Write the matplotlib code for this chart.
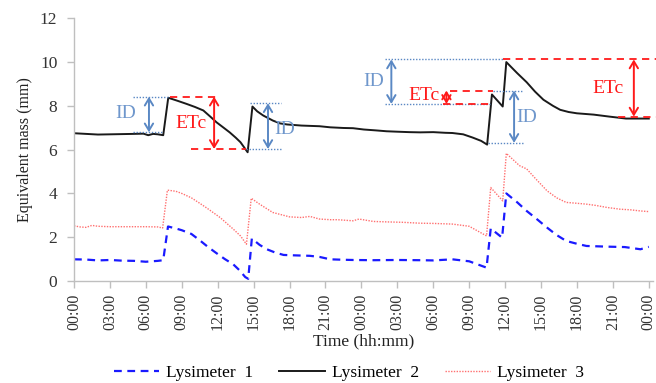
import matplotlib
matplotlib.use("Agg")
import matplotlib.pyplot as plt

plt.rcParams['font.family'] = ['Liberation Serif', 'DejaVu Serif']

# ---------------- data (hours since start, mm) ----------------
t1 = [0, 1, 2, 3, 4, 5, 6, 7, 7.45, 7.85, 8.5, 9.0, 9.8, 10.5, 11.2, 11.9, 12.6, 13.3,
      13.8, 14.3, 14.55, 14.85, 15.5, 16.1, 16.8, 17.5, 18.5, 19.7, 20.5, 21.4, 22.5,
      23.3, 25, 27, 28.9, 30, 31.6, 33, 34.45, 34.8, 35.75, 36.1, 37, 37.8, 38.6, 39.5,
      40.3, 41.1, 42, 42.8, 44.5, 46, 47.3, 48]
lys1 = [0.99, 0.98, 0.94, 0.96, 0.93, 0.92, 0.88, 0.92, 0.95, 2.49, 2.40, 2.32, 2.15,
        1.86, 1.55, 1.27, 1.00, 0.76, 0.50, 0.18, 0.10, 1.94, 1.65, 1.45, 1.30, 1.19,
        1.17, 1.15, 1.10, 0.99, 0.97, 0.96, 0.95, 0.96, 0.95, 0.94, 0.99, 0.90, 0.61,
        2.40, 1.98, 4.00, 3.60, 3.20, 2.85, 2.44, 2.10, 1.83, 1.70, 1.60, 1.57, 1.55,
        1.45, 1.56]

t2 = [0, 1, 2, 3, 4, 5, 5.8, 6.2, 6.6, 7.0, 7.45, 7.87, 8.6, 9.4, 10.1, 10.8, 11.4,
      11.9, 12.5, 13.0, 13.5, 13.9, 14.5, 14.9, 15.3, 15.8, 16.6, 17.2, 17.8, 19, 20.5,
      21.4, 22.5, 23.3, 24.2, 25.2, 26.1, 27, 28, 28.9, 30, 31, 31.6, 32.5, 33.3, 34.0,
      34.5, 34.9, 35.8, 36.1, 37, 37.8, 38.5, 39.2, 40, 40.6, 41.3, 42, 43.4, 44.7,
      46.1, 47, 48]
lys2 = [6.75, 6.72, 6.69, 6.70, 6.71, 6.72, 6.73, 6.66, 6.72, 6.70, 6.66, 8.37, 8.24,
        8.09, 7.95, 7.79, 7.50, 7.25, 7.00, 6.79, 6.55, 6.34, 5.88, 7.97, 7.75, 7.56,
        7.33, 7.20, 7.15, 7.10, 7.07, 7.02, 6.99, 6.98, 6.92, 6.88, 6.84, 6.82, 6.80,
        6.79, 6.80, 6.77, 6.76, 6.70, 6.55, 6.40, 6.23, 8.52, 7.97, 10.00, 9.50, 9.08,
        8.65, 8.28, 8.00, 7.82, 7.72, 7.66, 7.60, 7.51, 7.42, 7.42, 7.42]

t3 = [0, 0.5, 1, 1.5, 2, 3, 4, 5, 6, 7, 7.4, 7.8, 8.5, 9.0, 9.8, 10.5, 11.1, 12.2, 13.3,
      13.9, 14.4, 14.8, 15.5, 16.6, 18.0, 19.0, 19.7, 20.5, 21.4, 22.0, 23.3, 23.8, 25,
      26.1, 27.5, 28.9, 30, 31.6, 33, 34.45, 34.8, 35.8, 36.1, 37.2, 37.8, 38.5, 39.5,
      40.3, 41.1, 42, 42.8, 43.6, 44.5, 45.6, 46.5, 47.3, 48]
lys3 = [2.52, 2.47, 2.45, 2.54, 2.50, 2.48, 2.48, 2.48, 2.48, 2.47, 2.42, 4.15, 4.10,
        4.00, 3.80, 3.55, 3.33, 2.90, 2.37, 2.06, 1.68, 3.78, 3.51, 3.13, 2.93, 2.90,
        2.95, 2.83, 2.80, 2.80, 2.75, 2.83, 2.72, 2.70, 2.68, 2.64, 2.63, 2.60, 2.50,
        2.06, 4.27, 3.66, 5.83, 5.27, 5.12, 4.70, 4.12, 3.80, 3.59, 3.55, 3.51, 3.45,
        3.36, 3.28, 3.25, 3.20, 3.17]

series_names = ["Lysimeter  1", "Lysimeter  2", "Lysimeter  3"]
tick_hours = list(range(0, 49, 3))
tick_labels = ["00:00", "03:00", "06:00", "09:00", "12:00", "15:00", "18:00", "21:00",
               "00:00", "03:00", "06:00", "09:00", "12:00", "15:00", "18:00", "21:00",
               "00:00"]

# annotation guides: (x0, x1, y)
id_lines = [(4.95, 7.87, 8.42), (4.95, 7.45, 6.79),
            (14.7, 17.3, 8.12), (14.4, 17.3, 6.03),
            (26.0, 35.8, 10.12), (26.0, 34.7, 8.09),
            (35.0, 37.5, 8.70), (34.6, 37.5, 6.31)]
etc_lines = [(8.0, 12.05, 8.42), (9.8, 14.4, 6.03),
             (31.4, 35.0, 8.70), (30.8, 34.7, 8.09),
             (35.85, 48.6, 10.12), (45.4, 48.6, 7.51)]
# arrows: (x, y_top, y_bottom)
id_arrows = [(6.26, 8.42, 6.79), (16.2, 8.12, 6.03), (26.5, 10.12, 8.09), (36.75, 8.70, 6.31)]
etc_arrows = [(11.7, 8.42, 6.03), (31.1, 8.70, 8.09), (46.75, 10.12, 7.51)]
id_texts = [(4.3, 7.67), (17.6, 6.9), (25.0, 9.13), (37.8, 7.45)]
etc_texts = [(9.8, 7.18), (29.2, 8.47), (44.6, 8.78)]

# ---------------- figure ----------------
fig = plt.figure(figsize=(6.56, 3.83), dpi=100)
ax = fig.add_axes([74 / 656, 1 - 281 / 383, 579 / 656, (281 - 18.3) / 383])

ax.plot(t1, lys1, color='#1a1aff', lw=1.6, ls=(0, (3.5, 2.5)), label=series_names[0])
ax.plot(t2, lys2, color='#1a1a1a', lw=1.4, label=series_names[1])
ax.plot(t3, lys3, color='#ff7070', lw=1.0, ls=(0, (1, 1)), label=series_names[2])

id_col = '#5a88c4'
id_txt_col = '#6f97cc'
etc_col = '#ff1a1a'

for x0, x1, y in id_lines:
    ax.plot([x0, x1], [y, y], color=id_col, lw=1.0, ls=(0, (1, 1.2)), clip_on=False)
for x0, x1, y in etc_lines:
    ax.plot([x0, x1], [y, y], color=etc_col, lw=1.3, ls=(0, (4, 3)), clip_on=False)
for x, y0, y1 in id_arrows:
    ax.annotate('', xy=(x, y1), xytext=(x, y0),
                arrowprops=dict(arrowstyle='<->,head_length=0.5,head_width=0.3',
                                color=id_col, lw=1.4, shrinkA=0, shrinkB=0))
for x, y0, y1 in etc_arrows:
    ax.annotate('', xy=(x, y1), xytext=(x, y0),
                arrowprops=dict(arrowstyle='<->,head_length=0.5,head_width=0.3',
                                color=etc_col, lw=1.4, shrinkA=0, shrinkB=0))
for x, y in id_texts:
    ax.text(x, y, 'ID', color=id_txt_col, fontsize=14, ha='center', va='center')
for x, y in etc_texts:
    ax.text(x, y, 'ETc', color=etc_col, fontsize=14, ha='center', va='center')

ax.set_xlim(0, 48.35)
ax.set_ylim(0, 12)
ax.set_yticks(range(0, 13, 2))
ax.set_xticks(tick_hours)
ax.set_xticklabels(tick_labels, rotation=90)
for s in ['top', 'right']:
    ax.spines[s].set_visible(False)
for s in ['left', 'bottom']:
    ax.spines[s].set_color('#bfbfbf')
    ax.spines[s].set_linewidth(1.0)
ax.tick_params(axis='both', colors='#bfbfbf', labelcolor='#333333', labelsize=11.5,
               length=5, width=1.0)
ax.tick_params(axis='y', pad=7, labelsize=12.5)
ax.tick_params(axis='x', pad=4)

ax.set_ylabel('Equivalent mass (mm)', fontsize=11.5, color='#222222', labelpad=5)
fig.text(0.5 * (74 + 653) / 656, 1 - 341 / 383, 'Time (hh:mm)', fontsize=12.5,
         color='#222222', ha='center', va='center')

fig.legend(loc='center', bbox_to_anchor=(349 / 656, 1 - 373 / 383), ncol=3, frameon=False,
           fontsize=12.5, handlelength=2.6, columnspacing=1.5, handletextpad=0.4)

fig.savefig('out.png', dpi=100)
